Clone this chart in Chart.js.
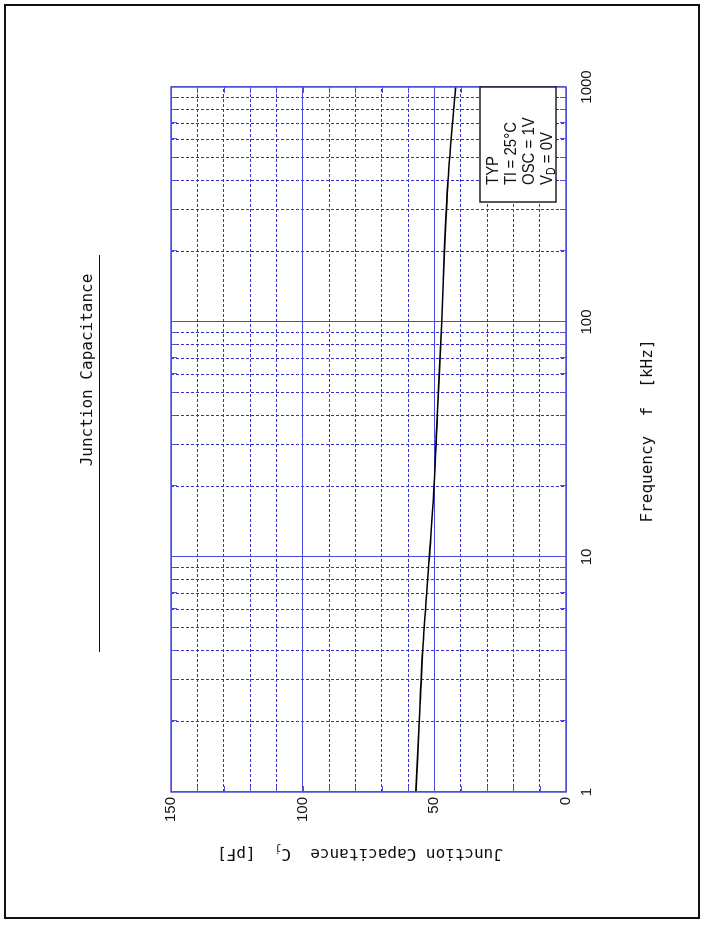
<!DOCTYPE html>
<html>
<head>
<meta charset="utf-8">
<script src="https://cdn.jsdelivr.net/npm/chart.js@4.4.1/dist/chart.umd.min.js"></script>
<style>
html, body { margin: 0; padding: 0; background: #fff; }
body { width: 706px; height: 926px; position: relative; overflow: hidden; }
/* the chart is drawn upright, then turned a quarter turn counter-clockwise */
#wrap { position: absolute; left: -110px; top: 110px; width: 926px; height: 706px; transform: rotate(-90deg); }
#cj { display: block; }
</style>
</head>
<body>
<div id="wrap"><canvas id="cj" width="926" height="706"></canvas></div>
<script>
// Junction capacitance vs frequency (datasheet style, log frequency axis)
const freqs = [1, 2, 4, 10, 20, 40, 100, 200, 400, 1000];                 // kHz
const capValues = [57.0, 55.7, 54.4, 51.9, 50.1, 48.9, 47.2, 46.2, 44.8, 41.9]; // pF

const freqGrid = [1, 2, 3, 4, 5, 6, 7, 8, 9, 10, 20, 30, 40, 50, 60, 70, 80, 90,
                  100, 200, 300, 400, 500, 600, 700, 800, 900, 1000];
const freqLabels = [1, 10, 100, 1000];
const capGrid = [0, 10, 20, 30, 40, 50, 60, 70, 80, 90, 100, 110, 120, 130, 140, 150];
const capLabels = [0, 50, 100, 150];

const chartTitle = 'Junction Capacitance';
const xTitle = 'Frequency  f  [kHz]';
const yTitle = [['Junction Capacitance  C', false], ['j', true], ['  [pF]', false]];
const legendLines = [
  [['TYP', false]],
  [['Tl = 25°C', false]],
  [['OSC = 1V', false]],
  [['V', false], ['D', true], [' = 0V', false]]
];

// wanted plot box, in the upright canvas
const AREA = { left: 134, right: 839, top: 171, bottom: 566 };
const pad = { left: 74, right: 87, top: 171, bottom: 100 };

const SOLID = 'rgb(72,72,220)';
const DOTS = 'rgb(50,50,205)';
const FRAME = 'rgb(80,80,220)';
const MONO = '"DejaVu Sans Mono", "Liberation Mono", monospace';
const SANS = '"Liberation Sans", Arial, sans-serif';

Chart.defaults.font.family = SANS;
Chart.defaults.color = '#111';

function isDecade(v) { return freqLabels.indexOf(v) >= 0; }
function isMajorCap(v) { return capLabels.indexOf(v) >= 0; }

// draws text pieces in a row, subscripts smaller and lowered
function drawParts(ctx, parts, x, y, size, family, align, squeeze) {
  const k = squeeze || 1;
  const widths = parts.map(([t, sub]) => {
    ctx.font = (sub ? Math.round(size * 0.7) : size) + 'px ' + family;
    return ctx.measureText(t).width * k;
  });
  const total = widths.reduce((s, w) => s + w, 0);
  let cx = align === 'center' ? x - total / 2 : x;
  parts.forEach(([t, sub], i) => {
    ctx.font = (sub ? Math.round(size * 0.7) : size) + 'px ' + family;
    ctx.save();
    ctx.translate(cx, y + (sub ? size * 0.28 : 0));
    ctx.scale(k, 1);
    ctx.fillText(t, 0, 0);
    ctx.restore();
    cx += widths[i];
  });
}

const decor = {
  id: 'decor',
  afterDraw(chart) {
    const { ctx, chartArea: a, scales: { x, y } } = chart;
    ctx.save();

    // inward ticks on all four sides
    ctx.strokeStyle = FRAME;
    ctx.lineWidth = 1;
    ctx.setLineDash([]);
    ctx.beginPath();
    freqGrid.forEach(v => {
      const px = Math.round(x.getPixelForValue(v)) + 0.5;
      ctx.moveTo(px, a.top); ctx.lineTo(px, a.top + 6);
      ctx.moveTo(px, a.bottom); ctx.lineTo(px, a.bottom - 6);
    });
    capGrid.forEach(v => {
      const py = Math.round(y.getPixelForValue(v)) + 0.5;
      ctx.moveTo(a.left, py); ctx.lineTo(a.left + 6, py);
      ctx.moveTo(a.right, py); ctx.lineTo(a.right - 6, py);
    });
    ctx.stroke();
    ctx.lineWidth = 1.5;
    ctx.strokeRect(a.left, a.top, a.right - a.left, a.bottom - a.top);

    // condition box
    const bx = a.right - 115, by = a.bottom - 86;
    ctx.fillStyle = '#fff';
    ctx.fillRect(bx, by, 115, 76);
    ctx.strokeStyle = '#222';
    ctx.lineWidth = 1.5;
    ctx.strokeRect(bx, by, 115, 76);
    ctx.fillStyle = '#111';
    ctx.textBaseline = 'middle';
    ctx.textAlign = 'left';
    const rows = [13, 31, 49, 67];
    legendLines.forEach((parts, i) => {
      drawParts(ctx, parts, bx + 17, by + rows[i], 17, SANS, 'left', 0.88);
    });

    // chart title with its rule
    ctx.fillStyle = '#111';
    drawParts(ctx, [[chartTitle, false]], 556, 88, 16, MONO, 'center');
    ctx.strokeStyle = '#111';
    ctx.lineWidth = 1.2;
    ctx.beginPath();
    ctx.moveTo(274, 99.5); ctx.lineTo(671, 99.5);
    ctx.stroke();

    // axis titles
    drawParts(ctx, [[xTitle, false]], 495, 648, 16, MONO, 'center');
    ctx.save();
    ctx.translate(73, 360);
    ctx.rotate(-Math.PI / 2);
    drawParts(ctx, yTitle, 0, 0, 16, MONO, 'center');
    ctx.restore();

    // outer page frame
    ctx.strokeStyle = '#111';
    ctx.lineWidth = 2;
    ctx.strokeRect(8, 5, 913, 694);
    ctx.restore();
  }
};

const chart = new Chart(document.getElementById('cj'), {
  type: 'line',
  data: {
    datasets: [{
      data: freqs.map((f, i) => ({ x: f, y: capValues[i] })),
      borderColor: '#000',
      borderWidth: 1.6,
      pointRadius: 0,
      cubicInterpolationMode: 'monotone',
      fill: false
    }]
  },
  options: {
    responsive: false,
    animation: false,
    devicePixelRatio: 1,
    layout: { padding: pad },
    plugins: { legend: { display: false }, tooltip: { enabled: false } },
    scales: {
      x: {
        type: 'logarithmic',
        min: 1,
        max: 1000,
        afterBuildTicks: (s) => { s.ticks = freqGrid.map(v => ({ value: v })); },
        ticks: {
          autoSkip: false,
          maxRotation: 0,
          padding: 12,
          font: { size: 15 },
          callback: (v) => isDecade(v) ? String(v) : ''
        },
        grid: {
          drawTicks: false,
          color: (c) => (c.tick && isDecade(c.tick.value)) ? SOLID : DOTS,
          lineWidth: 1
        },
        border: {
          display: false,
          dash: (c) => (c.tick && isDecade(c.tick.value)) ? [] : [3, 2]
        }
      },
      y: {
        type: 'linear',
        min: 0,
        max: 150,
        afterBuildTicks: (s) => { s.ticks = capGrid.map(v => ({ value: v })); },
        ticks: {
          autoSkip: false,
          padding: 5,
          font: { size: 15 },
          callback: (v) => isMajorCap(v) ? String(v) : ''
        },
        grid: {
          drawTicks: false,
          color: (c) => (c.tick && isMajorCap(c.tick.value)) ? SOLID : DOTS,
          lineWidth: 1
        },
        border: {
          display: false,
          dash: (c) => (c.tick && isMajorCap(c.tick.value)) ? [] : [3, 2]
        }
      }
    }
  },
  plugins: [decor]
});

// nudge the padding so the plot box lands where the reference has it
const a = chart.chartArea;
pad.left += AREA.left - a.left;
pad.top += AREA.top - a.top;
pad.right += a.right - AREA.right;
pad.bottom += a.bottom - AREA.bottom;
chart.update('none');
</script>
</body>
</html>
